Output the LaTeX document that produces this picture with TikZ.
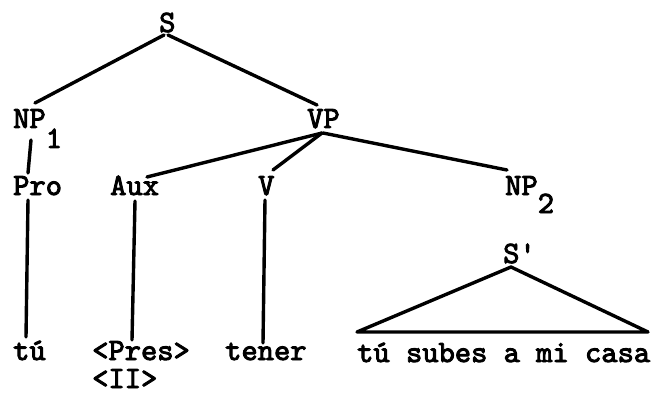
\documentclass[tikz,border=0pt]{standalone}
\usepackage{fontspec}
\newfontfamily\twfont{lmmono10-regular.otf}[RawFeature={embolden=3}]
\begin{document}
\begin{tikzpicture}[x=1pt,y=-1pt,
  lbl/.style={anchor=base west,inner sep=0pt,font=\fontsize{31}{36}\selectfont\twfont},
  edge/.style={line width=3.4pt,line cap=round,line join=round}]
\useasboundingbox (0,0) rectangle (651,396);
\node[lbl] (S) at (159,32) {S};
\node[lbl] (NP1) at (13,128) {NP\raisebox{-20pt}{1}};
\node[lbl] (VP) at (307,128) {VP};
\node[lbl] (Pro) at (13,195) {Pro};
\node[lbl] (Aux) at (110,195) {Aux};
\node[lbl] (V) at (258,195) {V};
\node[lbl] (NP2) at (505,195) {NP\raisebox{-18pt}{2}};
\node[lbl] (Sp) at (503,263) {S'};
\node[lbl] (tu) at (13,360) {tú};
\node[lbl] (Pres) at (92,360) {<Pres>};
\node[lbl] (II) at (92,388) {<II>};
\node[lbl] (tener) at (225,360) {tener};
\node[lbl] (sent) at (357,362) {tú subes a mi casa};
\draw[edge] ([shift={(5,3)}]S.base west) -- ([shift={(22,-25)}]NP1.base west);
\draw[edge] ([shift={(9,3)}]S.base west) -- ([shift={(10,-23)}]VP.base west);
\draw[edge] ([shift={(15,5)}]VP.base west) -- ([shift={(37,-18)}]Aux.base west);
\draw[edge] ([shift={(15,5)}]VP.base west) -- ([shift={(15,-25)}]V.base west);
\draw[edge] ([shift={(16,5)}]VP.base west) -- ([shift={(2,-25)}]NP2.base west);
\draw[edge] ([shift={(18,12)}]NP1.base west) -- ([shift={(15,-22)}]Pro.base west);
\draw[edge] ([shift={(15,5)}]Pro.base west) -- ([shift={(13,-23)}]tu.base west);
\draw[edge] ([shift={(25,6)}]Aux.base west) -- ([shift={(40,-20)}]Pres.base west);
\draw[edge] ([shift={(7,5)}]V.base west) -- ([shift={(38,-17)}]tener.base west);
\draw[edge] ([shift={(8,4)}]Sp.base west) -- ([shift={(0,-30)}]sent.base west)
  -- ([shift={(291,-30)}]sent.base west) -- cycle;
\end{tikzpicture}
\end{document}
